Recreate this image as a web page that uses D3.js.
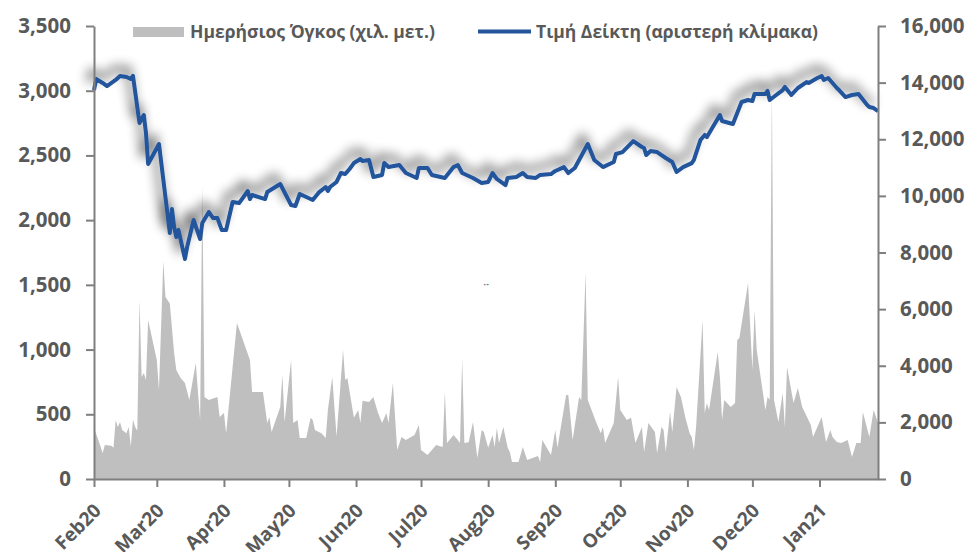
<!DOCTYPE html>
<html>
<head>
<meta charset="utf-8">
<script src="https://cdn.jsdelivr.net/npm/d3@7"></script>
<style>
  body { margin: 0; background: #fff; }
  svg { display: block; font-family: "Open Sans", sans-serif; }
</style>
</head>
<body>
<svg width="969" height="552"></svg>
<script>
// **** Data ****

// index value (left scale)
const indexDates = ["2020-02-01","2020-02-02","2020-02-05","2020-02-07","2020-02-11","2020-02-13","2020-02-16","2020-02-18","2020-02-19","2020-02-22","2020-02-24","2020-02-25","2020-02-26","2020-03-02","2020-03-07","2020-03-08","2020-03-09","2020-03-10","2020-03-11","2020-03-14","2020-03-15","2020-03-18","2020-03-21","2020-03-22","2020-03-25","2020-03-27","2020-03-29","2020-03-31","2020-04-02","2020-04-05","2020-04-08","2020-04-12","2020-04-13","2020-04-14","2020-04-20","2020-04-21","2020-04-27","2020-05-02","2020-05-04","2020-05-06","2020-05-12","2020-05-15","2020-05-18","2020-05-19","2020-05-20","2020-05-23","2020-05-25","2020-05-27","2020-05-29","2020-05-31","2020-06-03","2020-06-04","2020-06-07","2020-06-09","2020-06-13","2020-06-14","2020-06-16","2020-06-21","2020-06-24","2020-06-29","2020-06-30","2020-07-04","2020-07-06","2020-07-12","2020-07-16","2020-07-18","2020-07-20","2020-07-25","2020-07-29","2020-08-01","2020-08-03","2020-08-05","2020-08-09","2020-08-10","2020-08-14","2020-08-17","2020-08-19","2020-08-23","2020-08-25","2020-08-30","2020-09-01","2020-09-05","2020-09-07","2020-09-10","2020-09-16","2020-09-19","2020-09-23","2020-09-28","2020-09-29","2020-10-02","2020-10-07","2020-10-11","2020-10-12","2020-10-13","2020-10-15","2020-10-18","2020-10-22","2020-10-25","2020-10-27","2020-10-30","2020-11-03","2020-11-04","2020-11-07","2020-11-09","2020-11-10","2020-11-16","2020-11-17","2020-11-22","2020-11-24","2020-11-26","2020-11-29","2020-12-01","2020-12-02","2020-12-07","2020-12-08","2020-12-09","2020-12-12","2020-12-15","2020-12-16","2020-12-19","2020-12-22","2020-12-26","2020-12-27","2020-12-31","2021-01-02","2021-01-03","2021-01-05","2021-01-09","2021-01-10","2021-01-13","2021-01-16","2021-01-19","2021-01-23","2021-01-24","2021-01-26","2021-01-28"];
const indexValues = [3005,3090,3060,3036,3083,3114,3106,3090,3114,2750,2812,2673,2434,2588,1901,2086,1947,1870,1924,1700,1792,2001,1854,1978,2063,2016,2016,1924,1924,2140,2132,2225,2163,2194,2163,2217,2279,2117,2109,2202,2156,2217,2256,2225,2256,2295,2364,2356,2395,2441,2472,2457,2465,2333,2349,2441,2410,2426,2364,2326,2403,2403,2349,2326,2410,2426,2364,2326,2287,2295,2364,2318,2271,2326,2333,2364,2333,2326,2349,2356,2380,2410,2364,2403,2588,2465,2410,2449,2511,2526,2611,2565,2557,2503,2534,2526,2480,2449,2372,2410,2441,2465,2619,2658,2642,2812,2766,2743,2828,2913,2928,2920,2975,2975,2998,2928,2967,3005,3029,2967,3021,3067,3060,3098,3114,3083,3098,3021,3005,2951,2967,2975,2889,2874,2866,2843];

// daily volume (right scale)
const volumeDates = ["2020-02-01","2020-02-03","2020-02-05","2020-02-06","2020-02-09","2020-02-10","2020-02-11","2020-02-12","2020-02-13","2020-02-14","2020-02-16","2020-02-17","2020-02-18","2020-02-19","2020-02-20","2020-02-21","2020-02-22","2020-02-23","2020-02-24","2020-02-25","2020-02-26","2020-03-01","2020-03-02","2020-03-04","2020-03-05","2020-03-07","2020-03-09","2020-03-10","2020-03-12","2020-03-14","2020-03-16","2020-03-19","2020-03-21","2020-03-22","2020-03-23","2020-03-25","2020-03-29","2020-03-30","2020-04-01","2020-04-02","2020-04-07","2020-04-13","2020-04-14","2020-04-19","2020-04-21","2020-04-22","2020-04-23","2020-04-27","2020-04-28","2020-04-29","2020-05-02","2020-05-03","2020-05-05","2020-05-06","2020-05-09","2020-05-11","2020-05-12","2020-05-13","2020-05-16","2020-05-18","2020-05-19","2020-05-21","2020-05-23","2020-05-26","2020-05-27","2020-05-28","2020-05-31","2020-06-02","2020-06-03","2020-06-04","2020-06-07","2020-06-09","2020-06-11","2020-06-13","2020-06-15","2020-06-16","2020-06-18","2020-06-20","2020-06-22","2020-06-24","2020-06-28","2020-06-30","2020-07-01","2020-07-04","2020-07-06","2020-07-08","2020-07-11","2020-07-12","2020-07-13","2020-07-16","2020-07-18","2020-07-19","2020-07-20","2020-07-21","2020-07-23","2020-07-25","2020-07-27","2020-07-29","2020-07-30","2020-08-01","2020-08-03","2020-08-04","2020-08-05","2020-08-06","2020-08-08","2020-08-10","2020-08-11","2020-08-12","2020-08-15","2020-08-17","2020-08-19","2020-08-24","2020-08-25","2020-08-26","2020-08-30","2020-09-01","2020-09-02","2020-09-06","2020-09-07","2020-09-09","2020-09-12","2020-09-13","2020-09-15","2020-09-16","2020-09-20","2020-09-22","2020-09-23","2020-09-24","2020-09-28","2020-09-30","2020-10-01","2020-10-04","2020-10-06","2020-10-08","2020-10-11","2020-10-12","2020-10-14","2020-10-17","2020-10-18","2020-10-20","2020-10-21","2020-10-22","2020-10-24","2020-10-25","2020-10-27","2020-10-29","2020-10-31","2020-11-02","2020-11-03","2020-11-04","2020-11-05","2020-11-08","2020-11-09","2020-11-10","2020-11-11","2020-11-15","2020-11-16","2020-11-17","2020-11-18","2020-11-21","2020-11-23","2020-11-24","2020-11-25","2020-11-29","2020-12-01","2020-12-02","2020-12-03","2020-12-05","2020-12-07","2020-12-08","2020-12-09","2020-12-10","2020-12-11","2020-12-13","2020-12-15","2020-12-16","2020-12-17","2020-12-20","2020-12-22","2020-12-24","2020-12-28","2020-12-29","2021-01-02","2021-01-04","2021-01-06","2021-01-07","2021-01-09","2021-01-11","2021-01-14","2021-01-16","2021-01-18","2021-01-20","2021-01-21","2021-01-24","2021-01-26","2021-01-28"];
const volumeValues = [1800,1380,920,1200,1170,1100,2080,1840,2010,1730,1620,1840,1150,2100,1840,1700,6320,3600,3740,3500,5620,4200,3140,7700,6430,6200,4450,3850,3570,3390,2790,4100,2080,10380,2900,2790,2900,2190,2330,1620,5510,4200,3070,3070,1980,2190,1660,2540,3670,2010,4200,1980,2080,1450,1450,2160,2080,1730,1620,1450,2440,3600,1500,4560,3500,3570,2160,2440,1980,2760,2720,2900,2370,1980,2330,1980,3390,1020,1480,1380,1550,1910,1020,850,1020,1200,1130,3070,1270,1550,1380,1270,4240,1270,1300,2010,740,1730,1660,1100,1550,1130,1800,1270,1840,1100,950,600,600,1130,670,810,600,1380,850,1730,1100,2970,2970,1380,2900,2790,7310,2790,1980,1620,1840,1270,1980,3600,2440,2080,2160,1270,1840,950,1980,1660,920,1840,1730,950,2370,1660,3250,2900,2190,1620,1480,1020,1840,5620,2330,2680,2440,4490,3600,2080,2790,2540,2680,4910,4980,6920,3850,5970,4560,3500,2440,2900,2800,13800,2790,2010,3040,1840,3960,2680,3210,2540,1910,1480,2190,1310,1730,1480,1310,1270,1380,780,1270,1270,2370,1480,2440,1980];

// axis ticks
const leftTicks = [0, 500, 1000, 1500, 2000, 2500, 3000, 3500];
const rightTicks = [0, 2000, 4000, 6000, 8000, 10000, 12000, 14000, 16000];
const legendLabels = ["Ημερήσιος Όγκος (χιλ. μετ.)", "Τιμή Δείκτη (αριστερή κλίμακα)"];

const parseDate = d3.timeParse("%Y-%m-%d");
const indexData = indexDates.map((d, i) => ({ date: parseDate(d), value: indexValues[i] }));
const volumeData = volumeDates.map((d, i) => ({ date: parseDate(d), value: volumeValues[i] }));

// **** Scales ****
var xScale = d3.scaleTime()
    .domain([new Date(2020, 1, 1), new Date(2021, 0, 28)])
    .range([94, 878]);

var leftScale = d3.scaleLinear()
    .domain([0, 3500])
    .range([479, 26]);

var rightScale = d3.scaleLinear()
    .domain([0, 16000])
    .range([479, 26]);

var svg = d3.select('svg');
const axisColor = '#7f7f7f';
const textColor = '#595959';

// soft shadow behind the index line
var defs = svg.append('defs');
var filter = defs.append('filter')
    .attr('id', 'shadow')
    .attr('filterUnits', 'userSpaceOnUse')
    .attr('x', 0).attr('y', 0)
    .attr('width', 969).attr('height', 552);
filter.append('feGaussianBlur')
    .attr('in', 'SourceAlpha')
    .attr('stdDeviation', 6)
    .attr('result', 'blur');
filter.append('feOffset')
    .attr('in', 'blur')
    .attr('dx', -5).attr('dy', -8)
    .attr('result', 'off');
filter.append('feComponentTransfer')
    .attr('in', 'off')
    .attr('result', 'soft')
    .append('feFuncA')
    .attr('type', 'linear')
    .attr('slope', 0.75);
var merge = filter.append('feMerge');
merge.append('feMergeNode').attr('in', 'soft');
merge.append('feMergeNode').attr('in', 'SourceGraphic');

// volume area
var area = d3.area()
    .x(d => xScale(d.date))
    .y0(rightScale(0))
    .y1(d => rightScale(d.value));

svg.append('path')
    .datum(volumeData)
    .attr('fill', '#bfbfbf')
    .attr('d', area);

// index line
var line = d3.line()
    .x(d => xScale(d.date))
    .y(d => leftScale(d.value));

svg.append('path')
    .datum(indexData)
    .attr('fill', 'none')
    .attr('stroke', '#24559b')
    .attr('stroke-width', 4)
    .attr('stroke-linejoin', 'round')
    .attr('filter', 'url(#shadow)')
    .attr('d', line);

// **** Axes ****
function styleAxis(g) {
    g.select('.domain').attr('stroke', axisColor).attr('stroke-width', 2);
    g.selectAll('.tick line').attr('stroke', axisColor).attr('stroke-width', 2);
    g.selectAll('.tick text')
        .attr('fill', textColor)
        .style('font-size', '20.5px')
        .style('font-weight', 'bold')
        .style('font-family', '"Open Sans", sans-serif');
}

var yLeft = d3.axisLeft(leftScale)
    .tickValues(leftTicks)
    .tickFormat(d3.format(','))
    .tickSize(8)
    .tickSizeOuter(0)
    .tickPadding(15);
svg.append('g')
    .attr('transform', 'translate(94,0)')
    .call(yLeft)
    .call(styleAxis);

var yRight = d3.axisRight(rightScale)
    .tickValues(rightTicks)
    .tickFormat(d3.format(','))
    .tickSize(8)
    .tickSizeOuter(0)
    .tickPadding(14);
svg.append('g')
    .attr('transform', 'translate(878,0)')
    .call(yRight)
    .call(styleAxis);

var months = d3.timeMonth.range(new Date(2020, 1, 1), new Date(2021, 1, 1));
var xAxis = d3.axisBottom(xScale)
    .tickValues(months)
    .tickFormat(d3.timeFormat('%b%y'))
    .tickSize(8)
    .tickSizeOuter(0);
var gx = svg.append('g')
    .attr('transform', 'translate(0,479)')
    .call(xAxis)
    .call(styleAxis);
gx.selectAll('.tick text')
    .style('font-size', '19px')
    .attr('text-anchor', 'end')
    .attr('dy', 0)
    .attr('transform', 'translate(0,25) rotate(-45)');

// **** Legend ****
var legend = svg.append('g');
legend.append('rect')
    .attr('x', 133).attr('y', 27)
    .attr('width', 51).attr('height', 10)
    .attr('fill', '#bfbfbf');
legend.append('text')
    .attr('x', 190).attr('y', 38)
    .attr('fill', textColor)
    .style('font-size', '17.5px')
    .style('font-weight', 'bold')
    .text(legendLabels[0]);
legend.append('line')
    .attr('x1', 478).attr('x2', 531)
    .attr('y1', 31.5).attr('y2', 31.5)
    .attr('stroke', '#24559b')
    .attr('stroke-width', 4);
legend.append('text')
    .attr('x', 536).attr('y', 38)
    .attr('fill', textColor)
    .style('font-size', '17.5px')
    .style('font-weight', 'bold')
    .text(legendLabels[1]);

// small stray mark in the middle of the plot
svg.append('text')
    .attr('x', 486).attr('y', 286)
    .attr('text-anchor', 'middle')
    .attr('fill', '#333')
    .style('font-size', '8px')
    .text('↔');
</script>
</body>
</html>
